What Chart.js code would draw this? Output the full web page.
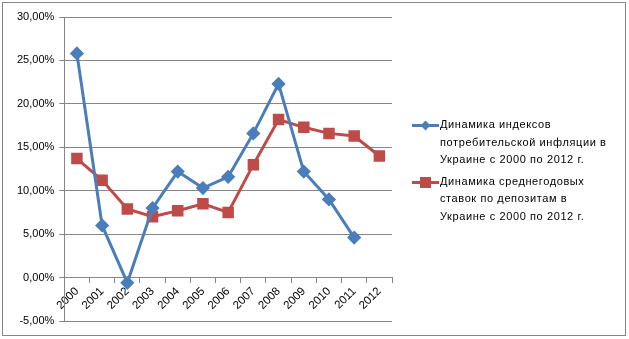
<!DOCTYPE html>
<html>
<head>
<meta charset="utf-8">
<script src="https://cdn.jsdelivr.net/npm/chart.js@4"></script>
<style>
  body { margin: 0; background: #fff; }
  #wrap { position: relative; width: 629px; height: 339px; }
  #frame { position: absolute; left: 2px; top: 2px; width: 622px; height: 332px; border: 1px solid #868686; }
  #chart { position: absolute; left: 0; top: 0; }
  .legend { position: absolute; left: 412px; font: 11px "Liberation Sans", Arial, sans-serif; letter-spacing: 0.6px; color: #000; }
  .legend .item { position: relative; padding-left: 28px; line-height: 17.5px; }
  .legend .line { position: absolute; left: 0; top: 8px; width: 27px; height: 3px; }
  .legend .mark { position: absolute; }
</style>
</head>
<body>
<div id="wrap">
  <div id="frame"></div>
  <canvas id="chart" width="629" height="339"></canvas>
  <div class="legend" id="legend"></div>
</div>
<script>
// годы
const years = ['2000', '2001', '2002', '2003', '2004', '2005', '2006', '2007', '2008', '2009', '2010', '2011', '2012'];
// индекс инфляции, %
const inflation = [25.8, 6.0, -0.6, 8.0, 12.2, 10.3, 11.6, 16.6, 22.3, 12.2, 9.0, 4.6, null];
// средние ставки по депозитам, %
const deposits = [13.7, 11.2, 7.9, 7.0, 7.7, 8.5, 7.5, 13.0, 18.2, 17.3, 16.6, 16.3, 14.0];
const labelInflation = ['Динамика индексов', 'потребительской  инфляции в', 'Украине с 2000 по 2012 г.'];
const labelDeposits = ['Динамика среднегодовых', 'ставок по депозитам в', 'Украине с 2000 по 2012 г.'];

const blue = '#4A7EBB';
const red = '#BE4B48';

const ctx = document.getElementById('chart').getContext('2d');
new Chart(ctx, {
    type: 'line',
    data: {
        labels: years,
        datasets: [{
            label: labelInflation.join(' '),
            data: inflation,
            borderColor: blue,
            backgroundColor: blue,
            borderWidth: 3,
            pointStyle: 'rectRot',
            pointRadius: 5,
            pointHoverRadius: 5,
            tension: 0
        }, {
            label: labelDeposits.join(' '),
            data: deposits,
            borderColor: red,
            backgroundColor: red,
            borderWidth: 3,
            pointStyle: 'rect',
            pointRadius: 6,
            pointHoverRadius: 6,
            tension: 0
        }]
    },
    options: {
        responsive: false,
        animation: false,
        layout: { padding: { left: 12, right: 237, top: 17, bottom: 18 } },
        plugins: { legend: { display: false }, tooltip: { enabled: false } },
        scales: {
            x: {
                position: { y: 0 },
                offset: true,
                grid: { drawOnChartArea: false, offset: true, tickLength: 5, color: '#868686' },
                border: { color: '#868686' },
                ticks: {
                    maxRotation: 45, minRotation: 45, padding: 2,
                    color: '#000', font: { family: 'Liberation Sans', size: 11.5 }
                }
            },
            y: {
                min: -5, max: 30,
                grid: { color: '#868686', tickLength: 5 },
                border: { color: '#868686' },
                ticks: {
                    stepSize: 5, padding: 5, color: '#000',
                    font: { family: 'Liberation Sans', size: 11 },
                    callback: v => v.toFixed(2).replace('.', ',') + '%'
                }
            }
        }
    }
});

// легенда справа
const legend = document.getElementById('legend');
legend.style.top = '116px';
[[labelInflation, blue, 'diamond'], [labelDeposits, red, 'square']].forEach(([lines, color, shape], i) => {
    const item = document.createElement('div');
    item.className = 'item';
    if (i > 0) item.style.marginTop = '4px';
    item.innerHTML = lines.join('<br>');
    const line = document.createElement('span');
    line.className = 'line';
    line.style.background = color;
    const mark = document.createElement('span');
    mark.className = 'mark';
    mark.style.background = color;
    if (shape === 'diamond') {
        mark.style.cssText += 'left:10px;top:6px;width:7px;height:7px;transform:rotate(45deg);';
    } else {
        mark.style.cssText += 'left:8px;top:4px;width:11px;height:11px;';
    }
    item.appendChild(line);
    item.appendChild(mark);
    legend.appendChild(item);
});
</script>
</body>
</html>
